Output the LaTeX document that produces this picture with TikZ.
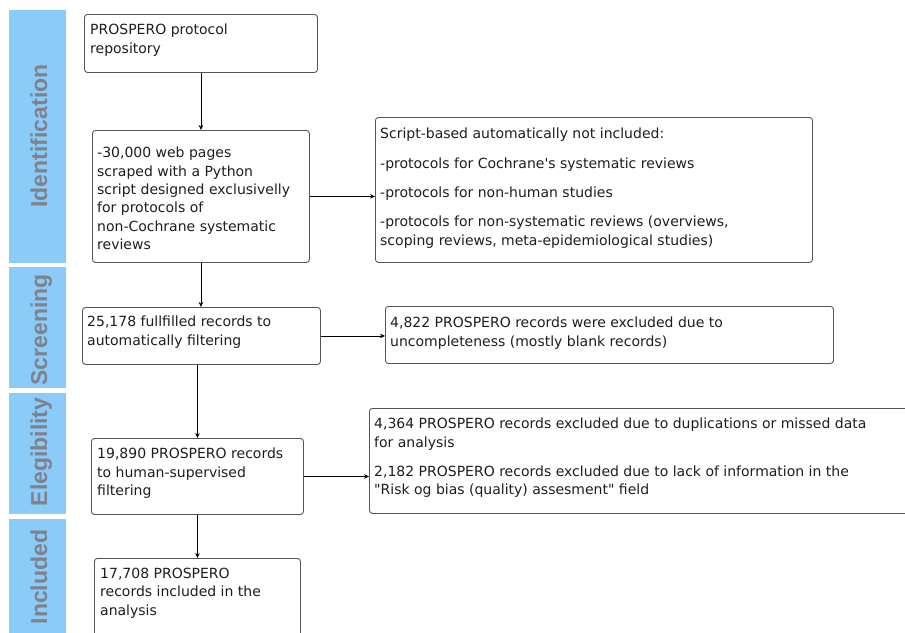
\documentclass[tikz,border=0pt]{standalone}
\usepackage{fontspec}
\setmainfont{DejaVu Sans}
\newfontfamily\sidefont{Liberation Sans}
\usetikzlibrary{arrows.meta}
\definecolor{sidebg}{RGB}{139,203,248}
\definecolor{sidetx}{RGB}{125,130,140}
\definecolor{boxln}{RGB}{85,85,85}
\definecolor{bodytx}{RGB}{30,30,30}
\tikzset{
  stagebar/.style={fill=sidebg, draw=none, anchor=north west, inner sep=0pt},
  stagelbl/.style={rotate=90, anchor=base, font=\sidefont\bfseries\fontsize{23}{26}\selectfont, text=sidetx, inner sep=0pt},
  flowbox/.style={draw=boxln, line width=0.9pt, rounded corners=3pt, anchor=north west, inner sep=0pt},
  flowtxt/.style={anchor=north west, inner sep=0pt, align=left, text=bodytx, font=\fontsize{14}{18.3}\selectfont},
  arr/.style={-{Stealth[length=5pt,width=4.5pt]}, line width=0.8pt, black}
}
\begin{document}
\begin{tikzpicture}[x=1pt,y=-1pt]
\useasboundingbox (0,0) rectangle (905,632);
\clip (0,0) rectangle (905,632);
\fill[white] (0,0) rectangle (905,632);

% stage bars
\node[stagebar, minimum width=57pt, minimum height=253pt] (s1) at (9,10) {};
\node[stagebar, minimum width=57pt, minimum height=121pt] (s2) at (9,267) {};
\node[stagebar, minimum width=57pt, minimum height=121pt] (s3) at (9,393) {};
\node[stagebar, minimum width=57pt, minimum height=120pt] (s4) at (9,519) {};
\node[stagelbl] (l1) at (47,136) {Identification};
\node[stagelbl] (l2) at (47,330) {Screening};
\node[stagelbl] (l3) at (47,452) {Elegibility};
\node[stagelbl] (l4) at (47,577) {Included};

% boxes
\node[flowbox, minimum width=233pt, minimum height=58pt] (b1) at (84,14) {};
\node[flowbox, minimum width=217pt, minimum height=132pt] (b2) at (92,130) {};
\node[flowbox, minimum width=437pt, minimum height=145pt] (b3) at (375,117) {};
\node[flowbox, minimum width=238pt, minimum height=57pt] (b4) at (82,307) {};
\node[flowbox, minimum width=448pt, minimum height=57pt] (b5) at (385,306) {};
\node[flowbox, minimum width=212pt, minimum height=76pt] (b6) at (91,438) {};
\node[flowbox, minimum width=545pt, minimum height=105pt] (b7) at (369,408) {};
\node[flowbox, minimum width=206pt, minimum height=90pt] (b8) at (94,558) {};

% texts
\node[flowtxt] (t1) at (90,24) {PROSPERO protocol\\repository};
\node[flowtxt] (t2) at (97,147) {-30,000 web pages\\scraped with a Python\\script designed exclusivelly\\for protocols of\\non-Cochrane systematic\\reviews};
\node[flowtxt] (t3) at (380,128) {Script-based automatically not included:\\[11pt]
-protocols for Cochrane\textquotesingle s systematic reviews\\[11pt]
-protocols for non-human studies\\[11pt]
-protocols for non-systematic reviews (overviews,\\scoping reviews, meta-epidemiological studies)};
\node[flowtxt] (t4) at (87,316) {25,178 fullfilled records to\\automatically filtering};
\node[flowtxt] (t5) at (390,317) {4,822 PROSPERO records were excluded due to\\uncompleteness (mostly blank records)};
\node[flowtxt] (t6) at (97,448) {19,890 PROSPERO records\\to human-supervised\\filtering};
\node[flowtxt] (t7) at (374,418) {4,364 PROSPERO records excluded due to duplications or missed data\\for analysis\\[11pt]
2,182 PROSPERO records excluded due to lack of information in the\\\textquotedbl Risk og bias (quality) assesment\textquotedbl\ field};
\node[flowtxt] (t8) at (100,568) {17,708 PROSPERO\\records included in the\\analysis};

% connectors
\draw[arr] (b1.south) -- (b1.south |- b2.north);
\draw[arr] (b2.east) -- (b2.east -| b3.west);
\draw[arr] (b2.south) -- (b2.south |- b4.north);
\draw[arr] (b4.east) -- (b4.east -| b5.west);
\draw[arr] (b6.north |- b4.south) -- (b6.north);
\draw[arr] (b6.east) -- (b6.east -| b7.west);
\draw[arr] (b6.south) -- (b6.south |- b8.north);
\end{tikzpicture}
\end{document}
